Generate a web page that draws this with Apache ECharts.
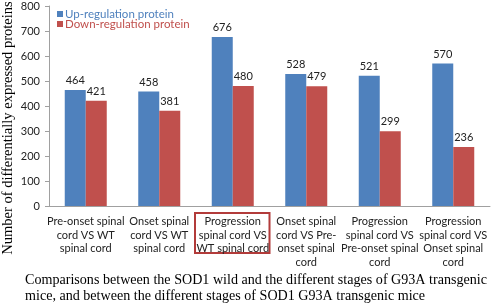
<!DOCTYPE html>
<html>
<head>
<meta charset="utf-8">
<script src="https://cdn.jsdelivr.net/npm/echarts@6/dist/echarts.min.js"></script>
<style>
  html, body { margin: 0; padding: 0; background: #fff; }
  #chart { width: 494px; height: 306px; }
</style>
</head>
<body>
<div id="chart"></div>
<script>
const categories = [
  'Pre-onset spinal\ncord VS WT\nspinal cord',
  'Onset spinal\ncord VS WT\nspinal cord',
  'Progression\nspinal cord VS\nWT spinal cord',
  'Onset spinal\ncord VS Pre-\nonset spinal\ncord',
  'Progression\nspinal cord VS\nPre-onset spinal\ncord',
  'Progression\nspinal cord VS\nOnset spinal\ncord'
]
const upValues = [464, 458, 676, 528, 521, 570]
const downValues = [421, 381, 480, 479, 299, 236]
const yTicks = [0, 100, 200, 300, 400, 500, 600, 700, 800]
const highlighted = 2

const blue = '#4f81bd'
const red = '#c0504d'
const labelFont = 'Lato'
const serif = 'Liberation Serif'

const chart = echarts.init(document.getElementById('chart'))

const option = {
  backgroundColor: '#fff',
  animation: false,
  color: [blue, red],
  legend: {
    orient: 'vertical',
    left: 52,
    top: 3,
    itemWidth: 6,
    itemHeight: 6,
    itemGap: -2,
    icon: 'rect',
    textStyle: { fontFamily: labelFont, fontSize: 11.5, padding: [0, 0, 0, -3] },
    data: [
      { name: 'Up-regulation protein', textStyle: { color: blue } },
      { name: 'Down-regulation protein', textStyle: { color: red } }
    ]
  },
  grid: {
    left: 49,
    right: 4,
    top: 6,
    bottom: 100
  },
  xAxis: {
    type: 'category',
    data: categories,
    axisLine: { lineStyle: { color: '#a0a0a0' } },
    axisTick: { length: 4, lineStyle: { color: '#a0a0a0' } },
    axisLabel: {
      interval: 0,
      margin: 9,
      color: '#222',
      fontFamily: labelFont,
      fontSize: 11,
      lineHeight: 13.5
    }
  },
  yAxis: {
    type: 'value',
    min: yTicks[0],
    max: yTicks[yTicks.length - 1],
    interval: yTicks[1] - yTicks[0],
    splitLine: { show: false },
    axisLine: { show: true, lineStyle: { color: '#a0a0a0' } },
    axisTick: { show: true, length: 4, lineStyle: { color: '#a0a0a0' } },
    axisLabel: {
      margin: 9,
      color: '#222',
      fontFamily: labelFont,
      fontSize: 11
    }
  },
  series: [
    {
      name: 'Up-regulation protein',
      type: 'bar',
      data: upValues,
      barWidth: 21,
      barGap: '0%',
      label: {
        show: true,
        position: 'top',
        distance: 4,
        color: '#222',
        fontFamily: labelFont,
        fontSize: 11
      }
    },
    {
      name: 'Down-regulation protein',
      type: 'bar',
      data: downValues,
      barWidth: 21,
      label: {
        show: true,
        position: 'top',
        distance: 4,
        color: '#222',
        fontFamily: labelFont,
        fontSize: 11
      }
    }
  ]
}

chart.setOption(option)

// red frame round the highlighted category label
const cx = chart.convertToPixel({ xAxisIndex: 0 }, highlighted)
const step = cx - chart.convertToPixel({ xAxisIndex: 0 }, highlighted - 1)
chart.setOption({
  graphic: [
    {
      id: 'ytitle',
      type: 'text',
      x: 8,
      y: 128,
      rotation: Math.PI / 2,
      style: {
        text: 'Number of differentially expressed proteins',
        font: '14.5px "' + serif + '"',
        fill: '#000',
        textAlign: 'center',
        textVerticalAlign: 'middle'
      }
    },
    {
      id: 'caption',
      type: 'text',
      x: 25,
      y: 272,
      style: {
        text: 'Comparisons between the SOD1 wild and the different stages of G93A transgenic\nmice, and between the different stages of SOD1 G93A transgenic mice',
        font: '14.1px "' + serif + '"',
        lineHeight: 16,
        fill: '#000'
      }
    },
    {
      id: 'frame',
      type: 'rect',
      shape: { x: cx - step / 2 - 1, y: 213, width: step + 1, height: 40 },
      style: { fill: 'none', stroke: '#b23b3a', lineWidth: 2 }
    }
  ]
})
</script>
</body>
</html>
